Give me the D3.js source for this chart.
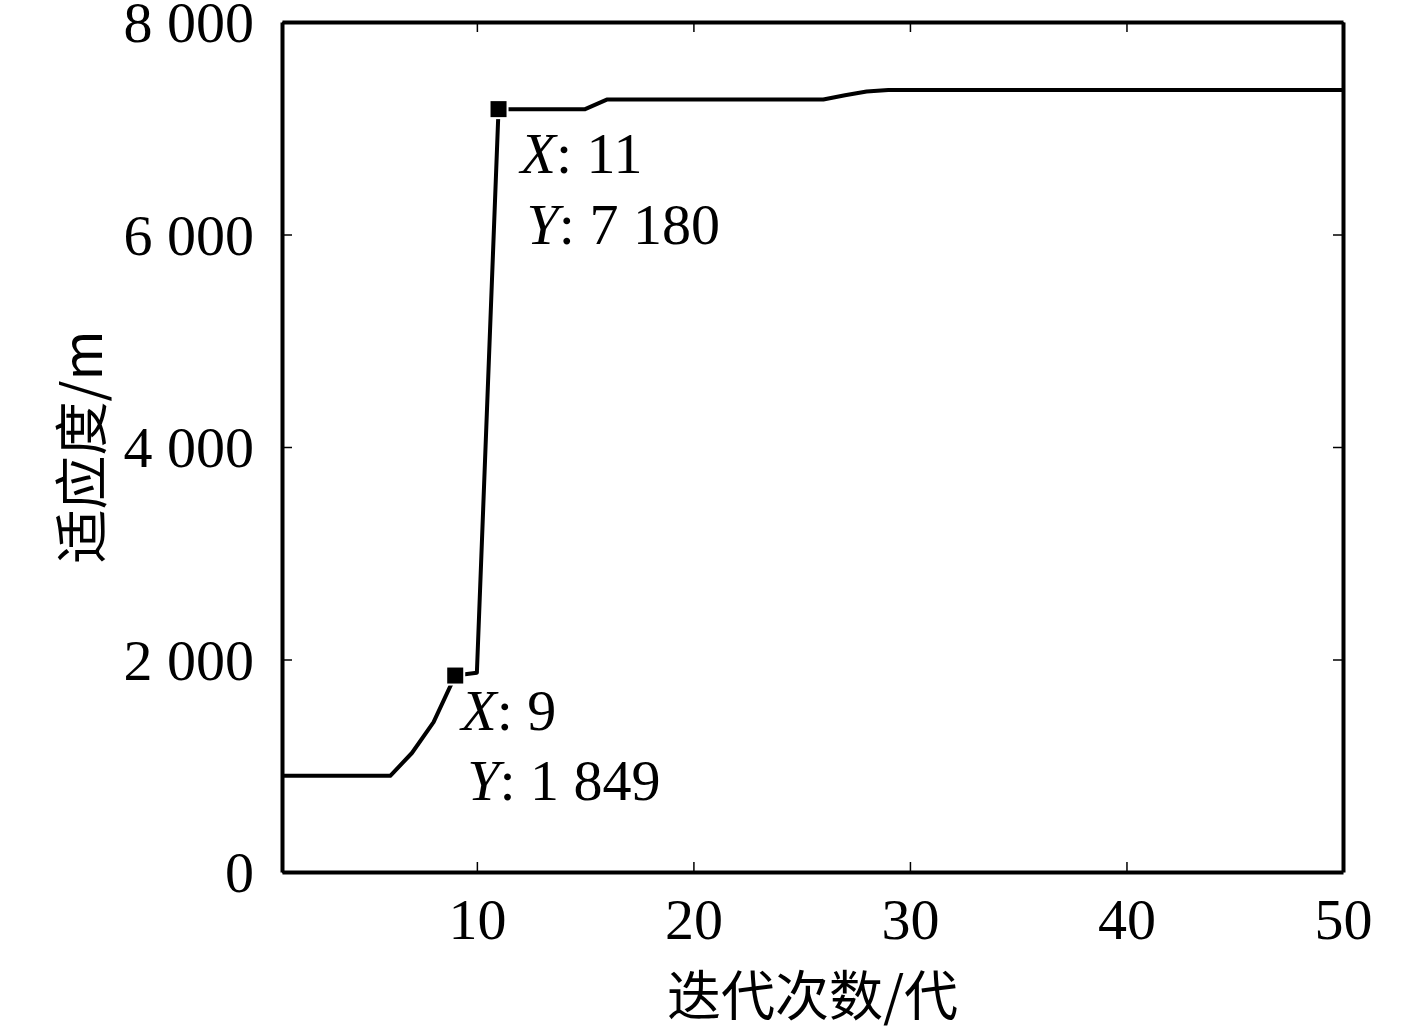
<!DOCTYPE html>
<html lang="zh">
	<head>
		<meta charset="utf-8">
		<title>适应度曲线</title>
		<script type="text/javascript" src="https://cdnjs.cloudflare.com/ajax/libs/d3/7.8.5/d3.min.js"></script>
		<style type="text/css">
			body { margin: 0; background: #fff; }
			.axis text { font-family: "Liberation Serif", "Times New Roman", serif; font-size: 58px; fill: #000; }
			.axis path, .axis line { stroke: #000; }
			.cn { font-family: "Noto Sans CJK SC", sans-serif; font-size: 54px; fill: #000; }
			.tip { font-family: "Liberation Serif", "Times New Roman", serif; font-size: 58px; fill: #000; }
		</style>
	</head>
	<body>
		<script type="text/javascript">

			//Data
			var generations = [1, 2, 3, 4, 5, 6, 7, 8, 9, 10,
				11, 12, 13, 14, 15, 16, 17, 18, 19, 20,
				21, 22, 23, 24, 25, 26, 27, 28, 29, 30,
				31, 32, 33, 34, 35, 36, 37, 38, 39, 40,
				41, 42, 43, 44, 45, 46, 47, 48, 49, 50];
			var fitness = [905, 905, 905, 905, 905, 905, 1120, 1410, 1849, 1875,
				7180, 7180, 7180, 7180, 7180, 7270, 7270, 7270, 7270, 7270,
				7270, 7270, 7270, 7270, 7270, 7270, 7310, 7345, 7360, 7360,
				7360, 7360, 7360, 7360, 7360, 7360, 7360, 7360, 7360, 7360,
				7360, 7360, 7360, 7360, 7360, 7360, 7360, 7360, 7360, 7360];
			var xTicks = [10, 20, 30, 40, 50];
			var yTicks = [0, 2000, 4000, 6000, 8000];
			var tipGens = [9, 11];

			//Size
			var w = 1417;
			var h = 1026;
			var margin = {top: 22, right: 74, bottom: 154, left: 282};

			var dataset = generations.map((g, i) => ({gen: g, val: fitness[i]}));

			var xScale = d3.scaleLinear()
						   .domain([1, 50])
						   .range([margin.left, w - margin.right]);

			var yScale = d3.scaleLinear()
						   .domain([0, 8000])
						   .range([h - margin.bottom, margin.top]);

			//Space as thousands separator, like "8 000"
			var locale = d3.formatLocale({decimal: ".", thousands: " ", grouping: [3], currency: ["", ""]});
			var fmt = locale.format(",d");

			var svg = d3.select("body")
						.append("svg")
						.attr("width", w)
						.attr("height", h);

			//Axes, ticks pointing inward
			var xAxis = d3.axisBottom(xScale).tickValues(xTicks).tickSizeInner(-10).tickSizeOuter(0).tickPadding(26);
			var yAxis = d3.axisLeft(yScale).tickValues(yTicks).tickSizeInner(-10).tickSizeOuter(0).tickPadding(28).tickFormat(fmt);
			var xTop = d3.axisTop(xScale).tickValues(xTicks).tickSizeInner(-10).tickSizeOuter(0).tickFormat("");
			var yRight = d3.axisRight(yScale).tickValues(yTicks).tickSizeInner(-10).tickSizeOuter(0).tickFormat("");

			var gx = svg.append("g")
				.attr("class", "axis")
				.attr("transform", `translate(0,${h - margin.bottom})`)
				.call(xAxis);

			var gy = svg.append("g")
				.attr("class", "axis")
				.attr("transform", `translate(${margin.left},0)`)
				.call(yAxis);

			svg.append("g")
				.attr("class", "axis")
				.attr("transform", `translate(0,${margin.top})`)
				.call(xTop);

			svg.append("g")
				.attr("class", "axis")
				.attr("transform", `translate(${w - margin.right},0)`)
				.call(yRight);

			svg.selectAll(".axis line").attr("stroke-width", 1.5);
			svg.selectAll(".axis path").attr("stroke-width", 4);
			gx.selectAll("text").attr("dy", "0.7em");
			gy.selectAll("text").attr("dy", "0.34em");

			//Fitness line
			var line = d3.line()
						 .x(d => xScale(d.gen))
						 .y(d => yScale(d.val));

			svg.append("path")
				.datum(dataset)
				.attr("fill", "none")
				.attr("stroke", "#000")
				.attr("stroke-width", 4)
				.attr("stroke-linejoin", "round")
				.attr("d", line);

			//Data tips
			var tips = dataset.filter(d => tipGens.includes(d.gen));
			var tipOffset = {9: {dx: 6, dy1: 54, dy2: 124}, 11: {dx: 22, dy1: 64, dy2: 135}};

			svg.selectAll("rect.marker")
				.data(tips)
				.enter()
				.append("rect")
				.attr("class", "marker")
				.attr("x", d => xScale(d.gen) - 8)
				.attr("y", d => yScale(d.val) - 8)
				.attr("width", 16)
				.attr("height", 16)
				.attr("fill", "#000")
				.attr("stroke", "#fff")
				.attr("stroke-width", 4)
				.attr("paint-order", "stroke");

			tips.forEach(d => {
				var o = tipOffset[d.gen];
				var tx = xScale(d.gen) + o.dx;
				var ty = yScale(d.val);
				var t1 = svg.append("text").attr("class", "tip").attr("x", tx).attr("y", ty + o.dy1);
				t1.append("tspan").attr("font-style", "italic").text("X");
				t1.append("tspan").text(": " + d.gen);
				var t2 = svg.append("text").attr("class", "tip").attr("x", tx + 6).attr("y", ty + o.dy2);
				t2.append("tspan").attr("font-style", "italic").text("Y");
				t2.append("tspan").text(": " + fmt(d.val));
			});

			//Axis titles
			svg.append("text")
				.attr("class", "cn")
				.attr("text-anchor", "middle")
				.attr("x", (margin.left + w - margin.right) / 2)
				.attr("y", 1016)
				.text("迭代次数/代");

			svg.append("text")
				.attr("class", "cn")
				.attr("text-anchor", "middle")
				.attr("transform", `translate(102,${(margin.top + h - margin.bottom) / 2}) rotate(-90)`)
				.text("适应度/m");

		</script>
	</body>
</html>
